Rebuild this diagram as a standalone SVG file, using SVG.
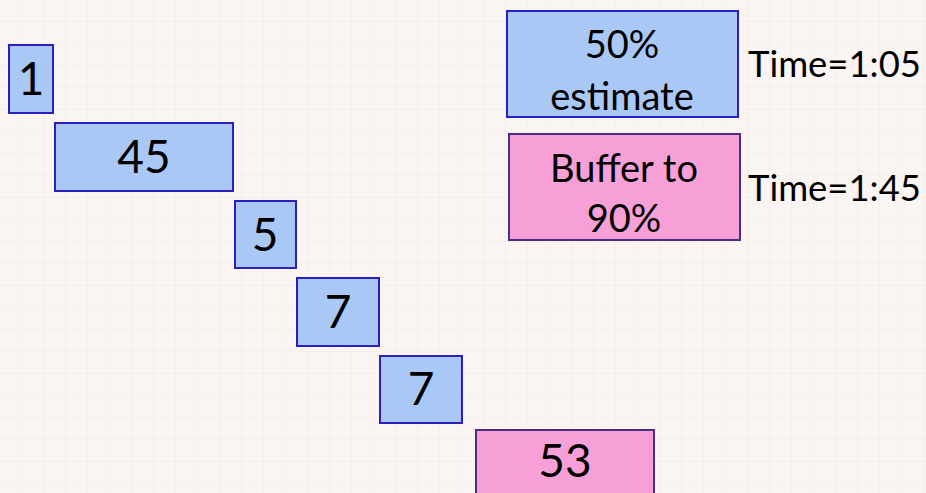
<svg xmlns="http://www.w3.org/2000/svg" width="926" height="493" viewBox="0 0 926 493">
<defs>
<pattern id="grid" width="22" height="22" patternUnits="userSpaceOnUse">
<path d="M22 0V22M0 22H22" fill="none" stroke="#F1E6E3" stroke-width="1"/>
</pattern>
<style>
.b{fill:#A9C8F5;stroke:#2A1FC0;stroke-width:2}
.p{fill:#F7A0D8;stroke:#4A2E86;stroke-width:2}
.n{font-family:Lato,"Open Sans",sans-serif;font-size:46px;fill:#000;text-anchor:middle}
.t{font-family:Lato,"Open Sans",sans-serif;font-size:38px;fill:#000;text-anchor:middle}
.l{font-family:Lato,"Open Sans",sans-serif;font-size:37px;fill:#000}
</style>
</defs>
<rect width="926" height="493" fill="#FAF5F3"/>
<rect width="926" height="493" fill="url(#grid)"/>
<g id="connectors"></g>
<g id="n1"><rect class="b" x="9" y="45" width="44" height="68"/><text class="n" x="31" y="95">1</text></g>
<g id="n45"><rect class="b" x="55" y="123" width="178" height="68"/><text class="n" x="144" y="173">45</text></g>
<g id="n5"><rect class="b" x="235" y="201" width="61" height="67"/><text class="n" x="265" y="251">5</text></g>
<g id="n7a"><rect class="b" x="297" y="278" width="82" height="68"/><text class="n" x="338" y="328">7</text></g>
<g id="n7b"><rect class="b" x="380" y="356" width="82" height="67"/><text class="n" x="421" y="405">7</text></g>
<g id="n53"><rect class="p" x="476" y="430" width="178" height="70"/><text class="n" x="565" y="477">53</text></g>
<g id="est"><rect class="b" x="507" y="11" width="231" height="106"/><text class="t" x="622" y="58">50%</text><text class="t" x="622" y="110">estimate</text></g>
<g id="buf"><rect class="p" x="509" y="134" width="231" height="106"/><text class="t" x="624" y="182">Buffer to</text><text class="t" x="624" y="232">90%</text></g>
<g id="times"><text class="l" x="748" y="77" textLength="173" lengthAdjust="spacingAndGlyphs">Time=1:05</text><text class="l" x="748" y="201" textLength="173" lengthAdjust="spacingAndGlyphs">Time=1:45</text></g>
</svg>
